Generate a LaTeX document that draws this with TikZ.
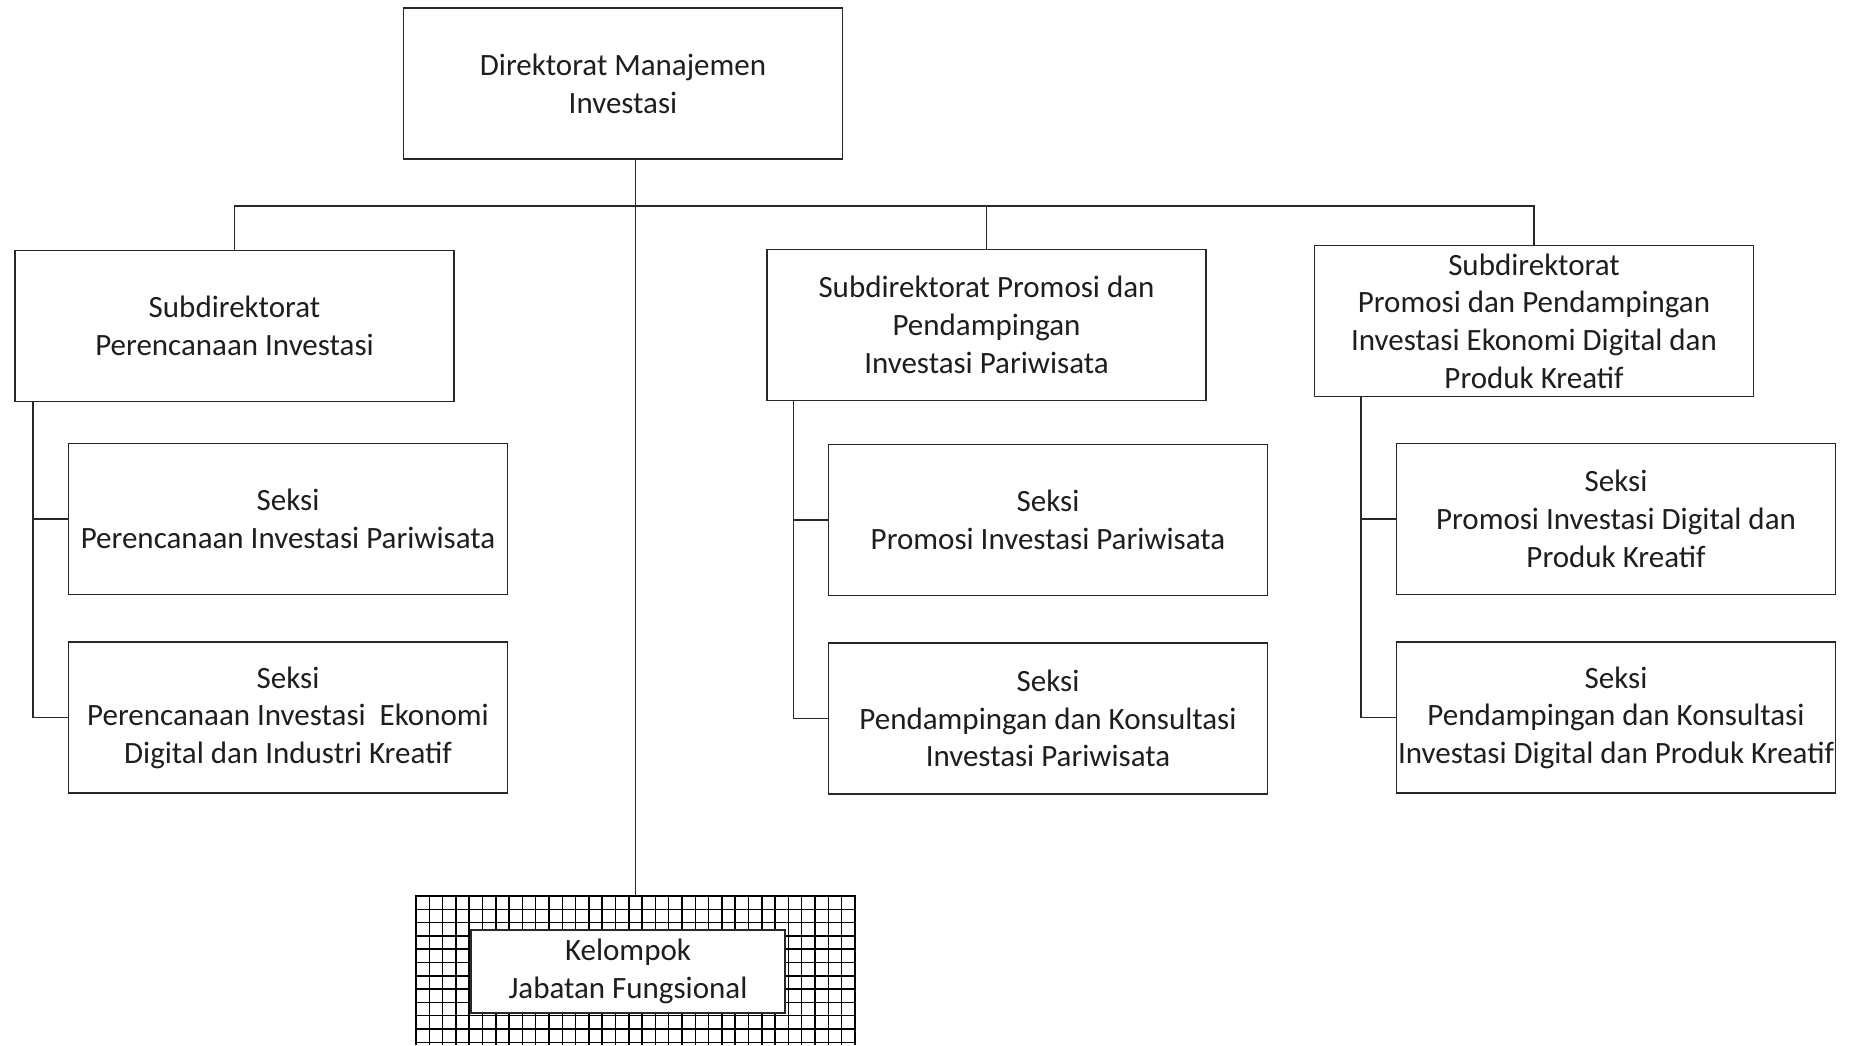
\documentclass[tikz,border=0pt]{standalone}
\usepackage{fontspec}
\setmainfont{Carlito}
\usepackage{tikz}
\usepackage{xcolor}
\usetikzlibrary{positioning}
\definecolor{linegray}{RGB}{40, 40, 40}
\definecolor{textgray}{RGB}{30, 30, 30}
\tikzset{
  unit/.style = {draw = linegray, line width = 1.6pt, fill = white, text = textgray,
    minimum width = 439pt, minimum height = 151pt, inner sep = 0pt, align = center,
    font = \fontsize{31}{37.7}\selectfont},
  link/.style = {draw = linegray, line width = 1.5pt}
}

\begin{document}
\begin{tikzpicture}[x = 1pt, y = -1pt]
\useasboundingbox (0,0) rectangle (1849,1045);
% direktorat and its subdirektorat
\node[unit] (dir) at (623,83.5) {Direktorat Manajemen\\Investasi};
\node[unit] (sub1) at (234.5,326) {Subdirektorat\\Perencanaan Investasi};
\node[unit] (sub2) at (986.5,325) {Subdirektorat Promosi dan\\Pendampingan\\Investasi Pariwisata};
\node[unit] (sub3) at (1534,321) {Subdirektorat\\Promosi dan Pendampingan\\Investasi Ekonomi Digital dan\\Produk Kreatif};
% seksi
\node[unit] (sek1a) at (288,519) {Seksi\\Perencanaan Investasi Pariwisata};
\node[unit, below = 46pt of sek1a] (sek1b) {Seksi\\Perencanaan Investasi~ Ekonomi\\Digital dan Industri Kreatif};
\node[unit] (sek2a) at (1048,520) {Seksi\\Promosi Investasi Pariwisata};
\node[unit, below = 46pt of sek2a] (sek2b) {Seksi\\Pendampingan dan Konsultasi\\Investasi Pariwisata};
\node[unit] (sek3a) at (1616,519) {Seksi\\Promosi Investasi Digital dan\\Produk Kreatif};
\node[unit, below = 46pt of sek3a] (sek3b) {Seksi\\Pendampingan dan Konsultasi\\Investasi Digital dan Produk Kreatif};
% kelompok jabatan fungsional (grid frame)
\coordinate (kel) at (635.5,896);
\begin{scope}
\clip (416,896) rectangle (855,1045);
\foreach \x in {416,429.3,...,856}
{
\draw[black, line width = 1.5pt] (\x,896) -- (\x,1045);
}
\foreach \y in {896,909.3,...,1046}
{
\draw[black, line width = 1.5pt] (416,\y) -- (855,\y);
}
\end{scope}
\draw[black, line width = 1.8pt] (416,1045) -- (416,896) -- (855,896) -- (855,1045);
\node[unit, minimum width = 314pt, minimum height = 83pt] (jab) at (628,971.5) {Kelompok\\Jabatan Fungsional};
% connectors
\coordinate (bus) at (635.5,206);
\draw[link] (dir.south -| kel) -- (kel);
\draw[link] (sub1.north) -- (sub1.north |- bus) -- (sub3.north |- bus) -- (sub3.north);
\draw[link] (sub2.north |- bus) -- (sub2.north);
\coordinate (sp1) at (33,401.7);
\coordinate (sp2) at (793.6,401);
\coordinate (sp3) at (1361,396.5);
\draw[link] (sp1) |- (sek1b.west);
\draw[link] (sp1 |- sek1a.west) -- (sek1a.west);
\draw[link] (sp2) |- (sek2b.west);
\draw[link] (sp2 |- sek2a.west) -- (sek2a.west);
\draw[link] (sp3) |- (sek3b.west);
\draw[link] (sp3 |- sek3a.west) -- (sek3a.west);
\end{tikzpicture}
\end{document}
